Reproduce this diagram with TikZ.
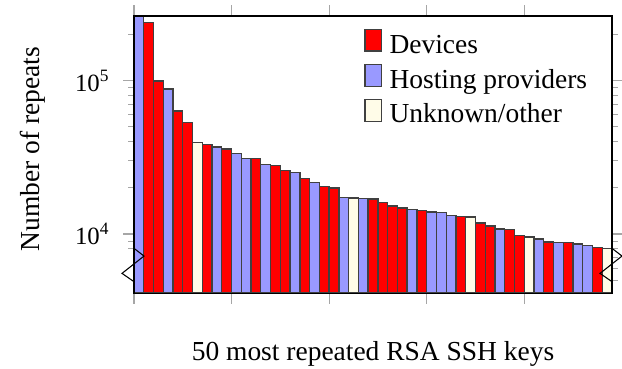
\documentclass[tikz,border=0pt]{standalone}
\usepackage{fontspec}
\setmainfont{Liberation Serif}
\usetikzlibrary{positioning}

\definecolor{devred}{RGB}{255,0,0}
\definecolor{hostblue}{RGB}{153,153,255}
\definecolor{otherbeige}{RGB}{255,252,232}

\tikzset{
  keybar/.style={draw=black!75, line width=0.5pt},
  tickmark/.style={draw=black!35, line width=0.4pt},
  swatch/.style={keybar, minimum width=6.3pt, minimum height=8.1pt, inner sep=0pt},
  legtext/.style={inner sep=0pt, anchor=base west},
  ticklabel/.style={anchor=east, xshift=-5.5pt, font=\fontsize{9.3}{11}\selectfont},
}

\begin{document}
\begin{tikzpicture}[x=3.658pt, y=57.49pt, font=\fontsize{10.3}{12.4}\selectfont]
\useasboundingbox (-13.737,-0.8741) rectangle (50.026,1.5264);
% one unit across is one key, one unit up is one decade,
% y = log10(repeats in thousands) - 1, so 10^4 sits at y = 0
\coordinate (sw) at (0,-0.385);
\coordinate (ne) at (49,1.422);

% ticks outside the box
\foreach \t in {0,10,20,30,40} {
  \draw[tickmark] (\t,1.422) -- ++(0,4.2pt);
  \draw[tickmark] (\t,-0.385) -- ++(0,-4.2pt);
}
\foreach \m in {0,1} {
  \draw[tickmark] (0,\m) -- ++(-4.2pt,0);
  \draw[tickmark] (49,\m) -- ++(4.2pt,0);
}
\foreach \k in {8,9,20,30,40,50,60,70,80,90,200}
  \draw[tickmark] (0,{log10(\k)-1}) -- ++(-2.2pt,0);
\foreach \k in {5,6,7,8,9,20,30,40,50,60,70,80,90,200}
  \draw[tickmark] (49,{log10(\k)-1}) -- ++(2.2pt,0);

% the keys, most repeated first (repeats in thousands / owner)
\foreach \v/\c [count=\i] in {264/hostblue, 239/devred, 99.5/devred,
    88.3/hostblue, 63.4/devred, 53.2/devred, 39.5/otherbeige, 38.5/devred,
    36.9/hostblue, 35.8/devred, 33.4/hostblue, 31.2/hostblue, 31.2/devred,
    28.5/hostblue, 28.1/devred, 26.0/devred, 25.3/hostblue, 23.1/devred,
    21.7/hostblue, 20.5/devred, 20.0/devred, 17.25/hostblue, 17.2/otherbeige,
    17.1/hostblue, 16.9/devred, 16.1/devred, 15.2/devred, 14.8/devred,
    14.5/hostblue, 14.3/devred, 13.9/hostblue, 13.8/hostblue, 13.2/hostblue,
    12.97/devred, 12.9/otherbeige, 11.8/devred, 11.3/devred, 10.8/hostblue,
    10.7/devred, 9.8/devred, 9.55/otherbeige, 9.28/hostblue, 8.87/devred,
    8.83/hostblue, 8.77/devred, 8.6/hostblue, 8.44/hostblue, 8.14/devred,
    8.07/otherbeige}
  \draw[keybar, fill=\c] (\i-1,-0.385) rectangle (\i,{log10(\v)-1});

\draw[line width=0.4pt] (sw) rectangle (ne);

% broken axis marks
\coordinate (lbreak) at (0,-0.0933);
\coordinate (rbreak) at (49,-0.0933);
\draw[line width=0.4pt] (lbreak) -- ++(3.75pt,-2.9pt) -- ++(-8.25pt,-6.5pt) -- ++(4.5pt,-3.1pt);
\draw[line width=0.4pt] (rbreak) -- ++(3.75pt,-2.9pt) -- ++(-8.25pt,-6.5pt) -- ++(4.5pt,-3.1pt);

\node[ticklabel] (ylow) at (0,0) {10\textsuperscript{4}};
\node[ticklabel] (yhigh) at (0,1) {10\textsuperscript{5}};
\node[rotate=90] (ylabel) at (-10.34,0.553) {Number of repeats};
\node (xlabel) at (24.5,-0.783) {50 most repeated RSA SSH keys};

% legend
\node[swatch, fill=devred] (devbox) at (24.53,1.264) {};
\node[swatch, fill=hostblue, below=4.6pt of devbox] (hostbox) {};
\node[swatch, fill=otherbeige, below=4.6pt of hostbox] (otherbox) {};
\node[legtext] (devtext) at ([xshift=2.5pt,yshift=-0.5pt]devbox.south east) {Devices};
\node[legtext] (hosttext) at ([xshift=2.5pt,yshift=-0.5pt]hostbox.south east) {Hosting providers};
\node[legtext] (othertext) at ([xshift=2.5pt,yshift=-0.3pt]otherbox.south east) {Unknown/other};
\end{tikzpicture}
\end{document}
